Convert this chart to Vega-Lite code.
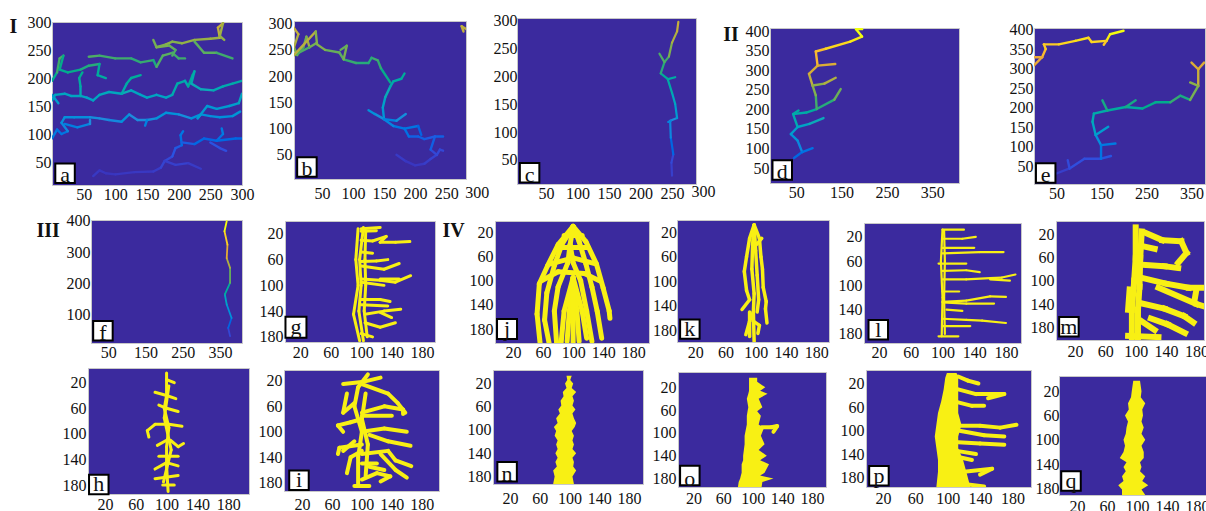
{"padding":0,"background":"white",
"config":{"view":{"stroke":null},"concat":{"spacing":0},"axis":{"grid":false,"ticks":false,"domain":false,"labelFont":"Liberation Serif","labelFontSize":16,"labelColor":"#111","labelOverlap":false,"labelFlush":false,"labelAngle":0}},
"datasets":{
"a":[{"b":1,"x":65,"y":25},{"b":1,"x":75,"y":35},{"b":1,"x":85,"y":30},{"b":1,"x":100,"y":28},{"b":1,"x":130,"y":32},{"b":1,"x":160,"y":33},{"b":1,"x":172,"y":40},{"b":1,"x":178,"y":52},{"b":1,"x":190,"y":60},{"b":1,"x":195,"y":75},{"b":1,"x":205,"y":80},{"b":1,"x":203,"y":98},{"b":1,"x":207,"y":105},
{"b":2,"x":178,"y":52},{"b":2,"x":195,"y":45},{"b":2,"x":215,"y":48},{"b":2,"x":235,"y":38},
{"b":3,"x":205,"y":85},{"b":3,"x":225,"y":82},{"b":3,"x":240,"y":92},{"b":3,"x":260,"y":88},{"b":3,"x":270,"y":100},{"b":3,"x":268,"y":110},
{"b":4,"x":260,"y":88},{"b":4,"x":290,"y":92},{"b":4,"x":300,"y":92},{"b":5,"x":250,"y":85},{"b":5,"x":265,"y":75},{"b":5,"x":275,"y":70},
{"b":6,"x":0,"y":92},{"b":6,"x":8,"y":108},{"b":6,"x":15,"y":100},{"b":6,"x":25,"y":105},{"b":6,"x":15,"y":120},{"b":6,"x":20,"y":130},{"b":6,"x":35,"y":130},{"b":6,"x":60,"y":130},{"b":6,"x":75,"y":128},{"b":6,"x":90,"y":125},{"b":6,"x":110,"y":122},{"b":6,"x":122,"y":135},{"b":6,"x":135,"y":125},{"b":6,"x":150,"y":125},{"b":6,"x":165,"y":128},{"b":6,"x":180,"y":138},{"b":6,"x":200,"y":135},{"b":6,"x":220,"y":128},{"b":6,"x":235,"y":135},{"b":6,"x":250,"y":132},{"b":6,"x":265,"y":130},{"b":6,"x":285,"y":132},{"b":6,"x":297,"y":140},
{"b":7,"x":20,"y":118},{"b":7,"x":40,"y":112},{"b":7,"x":60,"y":118},{"b":7,"x":60,"y":125},{"b":8,"x":150,"y":125},{"b":8,"x":147,"y":115},
{"b":9,"x":235,"y":135},{"b":9,"x":230,"y":128},{"b":9,"x":245,"y":150},{"b":9,"x":260,"y":145},{"b":9,"x":280,"y":150},{"b":9,"x":295,"y":155},{"b":9,"x":300,"y":172},
{"b":10,"x":0,"y":160},{"b":10,"x":5,"y":170},{"b":10,"x":20,"y":172},{"b":10,"x":30,"y":168},{"b":10,"x":45,"y":168},{"b":10,"x":55,"y":165},{"b":10,"x":65,"y":160},{"b":10,"x":75,"y":170},{"b":10,"x":90,"y":175},{"b":10,"x":110,"y":172},{"b":10,"x":125,"y":178},{"b":10,"x":140,"y":170},{"b":10,"x":150,"y":165},{"b":10,"x":165,"y":170},{"b":10,"x":180,"y":165},{"b":10,"x":190,"y":170},{"b":10,"x":198,"y":190},{"b":10,"x":210,"y":195},{"b":10,"x":215,"y":185},{"b":10,"x":222,"y":205},{"b":10,"x":225,"y":212},{"b":10,"x":220,"y":190},{"b":10,"x":235,"y":180},{"b":10,"x":255,"y":178},{"b":10,"x":270,"y":185},{"b":10,"x":285,"y":190},{"b":10,"x":300,"y":195},
{"b":11,"x":0,"y":170},{"b":11,"x":10,"y":155},{"b":12,"x":45,"y":168},{"b":12,"x":45,"y":185},{"b":12,"x":43,"y":200},{"b":12,"x":48,"y":210},{"b":13,"x":110,"y":172},{"b":13,"x":118,"y":190},{"b":13,"x":125,"y":200},{"b":13,"x":140,"y":205},
{"b":14,"x":0,"y":195},{"b":14,"x":8,"y":210},{"b":14,"x":12,"y":235},{"b":14,"x":18,"y":240},{"b":14,"x":12,"y":215},{"b":14,"x":25,"y":210},{"b":14,"x":45,"y":215},{"b":14,"x":58,"y":222},{"b":14,"x":75,"y":225},{"b":14,"x":72,"y":205},{"b":14,"x":85,"y":200},
{"b":15,"x":58,"y":238},{"b":15,"x":75,"y":240},{"b":15,"x":100,"y":235},{"b":15,"x":125,"y":235},{"b":15,"x":140,"y":228},{"b":15,"x":160,"y":232},{"b":15,"x":165,"y":220},{"b":15,"x":175,"y":240},{"b":15,"x":190,"y":245},{"b":15,"x":200,"y":235},{"b":15,"x":210,"y":235},
{"b":16,"x":160,"y":268},{"b":16,"x":165,"y":255},{"b":16,"x":180,"y":260},{"b":16,"x":190,"y":265},{"b":16,"x":205,"y":262},{"b":16,"x":225,"y":268},{"b":16,"x":250,"y":270},{"b":16,"x":265,"y":272},{"b":16,"x":262,"y":290},{"b":16,"x":270,"y":298},{"b":16,"x":265,"y":275},{"b":16,"x":272,"y":268},
{"b":17,"x":165,"y":255},{"b":17,"x":185,"y":258},{"b":17,"x":195,"y":250},{"b":17,"x":190,"y":240},{"b":18,"x":225,"y":265},{"b":18,"x":240,"y":245},{"b":18,"x":260,"y":245},{"b":18,"x":285,"y":235}],
"b":[{"b":1,"x":170,"y":50},{"b":1,"x":185,"y":38},{"b":1,"x":200,"y":30},{"b":1,"x":215,"y":33},{"b":1,"x":225,"y":42},{"b":1,"x":235,"y":50},{"b":1,"x":240,"y":60},{"b":1,"x":245,"y":58},
{"b":2,"x":235,"y":50},{"b":2,"x":225,"y":60},{"b":2,"x":232,"y":85},{"b":2,"x":245,"y":85},{"b":3,"x":232,"y":85},{"b":3,"x":215,"y":80},{"b":3,"x":205,"y":85},{"b":3,"x":190,"y":85},{"b":3,"x":183,"y":100},{"b":3,"x":165,"y":105},{"b":3,"x":150,"y":118},{"b":3,"x":135,"y":128},{"b":3,"x":125,"y":135},
{"b":4,"x":150,"y":118},{"b":4,"x":148,"y":140},{"b":4,"x":152,"y":160},{"b":4,"x":160,"y":180},{"b":4,"x":165,"y":190},{"b":4,"x":178,"y":195},{"b":4,"x":183,"y":205},
{"b":5,"x":160,"y":188},{"b":5,"x":145,"y":215},{"b":5,"x":140,"y":230},{"b":5,"x":130,"y":235},{"b":5,"x":125,"y":225},{"b":5,"x":105,"y":225},{"b":5,"x":85,"y":232},{"b":5,"x":78,"y":245},{"b":5,"x":55,"y":250},{"b":5,"x":40,"y":262},{"b":5,"x":30,"y":255},{"b":5,"x":25,"y":275},{"b":5,"x":20,"y":255},{"b":5,"x":10,"y":240},{"b":5,"x":5,"y":255},{"b":5,"x":12,"y":280},{"b":5,"x":3,"y":295},
{"b":6,"x":85,"y":232},{"b":6,"x":90,"y":258},{"b":6,"x":80,"y":250},{"b":7,"x":278,"y":285},{"b":7,"x":275,"y":295},{"b":7,"x":282,"y":290},{"b":8,"x":150,"y":118},{"b":8,"x":170,"y":115},{"b":8,"x":185,"y":128},{"b":9,"x":183,"y":100},{"b":9,"x":205,"y":105},{"b":9,"x":210,"y":88},{"b":10,"x":30,"y":255},{"b":10,"x":5,"y":240},{"b":10,"x":40,"y":285},{"b":10,"x":42,"y":262}],
"c":[{"b":1,"x":250,"y":22},{"b":1,"x":249,"y":45},{"b":1,"x":252,"y":60},{"b":1,"x":248,"y":90},{"b":1,"x":247,"y":120},{"b":1,"x":258,"y":125},{"b":1,"x":255,"y":150},{"b":1,"x":250,"y":170},{"b":1,"x":243,"y":195},{"b":1,"x":232,"y":205},{"b":1,"x":238,"y":225},{"b":1,"x":245,"y":235},{"b":1,"x":250,"y":260},{"b":1,"x":258,"y":280},{"b":1,"x":260,"y":297},{"b":2,"x":238,"y":225},{"b":2,"x":230,"y":240},{"b":3,"x":245,"y":195},{"b":3,"x":255,"y":198},{"b":4,"x":248,"y":120},{"b":4,"x":244,"y":118}],
"d":[{"b":1,"x":45,"y":76},{"b":1,"x":63,"y":91},{"b":1,"x":53,"y":120},{"b":1,"x":38,"y":137},{"b":1,"x":53,"y":155},{"b":1,"x":43,"y":188},{"b":1,"x":55,"y":197},{"b":2,"x":63,"y":91},{"b":2,"x":86,"y":101},{"b":3,"x":53,"y":155},{"b":3,"x":79,"y":163},{"b":3,"x":110,"y":178},
{"b":4,"x":43,"y":188},{"b":4,"x":72,"y":192},{"b":4,"x":95,"y":201},{"b":4,"x":134,"y":225},{"b":4,"x":148,"y":252},{"b":5,"x":95,"y":201},{"b":5,"x":93,"y":236},{"b":5,"x":86,"y":261},{"b":5,"x":78,"y":291},{"b":5,"x":97,"y":312},{"b":5,"x":93,"y":348},{"b":5,"x":115,"y":355},{"b":5,"x":169,"y":373},{"b":5,"x":195,"y":386},{"b":5,"x":182,"y":405},{"b":5,"x":195,"y":405},
{"b":6,"x":86,"y":261},{"b":6,"x":112,"y":266},{"b":6,"x":137,"y":281},{"b":7,"x":97,"y":312},{"b":7,"x":136,"y":316}],
"e":[{"b":1,"x":50,"y":31},{"b":1,"x":79,"y":44},{"b":1,"x":112,"y":69},{"b":1,"x":149,"y":69},{"b":1,"x":171,"y":76},{"b":2,"x":149,"y":69},{"b":2,"x":149,"y":104},{"b":2,"x":137,"y":130},{"b":2,"x":130,"y":164},{"b":2,"x":133,"y":185},{"b":2,"x":163,"y":193},{"b":2,"x":204,"y":202},{"b":2,"x":241,"y":198},{"b":2,"x":270,"y":214},{"b":2,"x":303,"y":214},{"b":2,"x":325,"y":231},{"b":2,"x":347,"y":220},{"b":2,"x":365,"y":256},{"b":2,"x":365,"y":299},{"b":2,"x":350,"y":316},
{"b":3,"x":149,"y":104},{"b":3,"x":181,"y":108},{"b":4,"x":137,"y":130},{"b":4,"x":165,"y":151},{"b":5,"x":163,"y":193},{"b":5,"x":152,"y":219},{"b":6,"x":204,"y":202},{"b":6,"x":226,"y":219},{"b":7,"x":365,"y":256},{"b":7,"x":347,"y":265},{"b":8,"x":365,"y":299},{"b":8,"x":378,"y":316},{"b":9,"x":79,"y":44},{"b":9,"x":75,"y":65},
{"b":10,"x":0,"y":309},{"b":10,"x":18,"y":330},{"b":10,"x":26,"y":351},{"b":10,"x":22,"y":363},{"b":10,"x":55,"y":363},{"b":10,"x":92,"y":372},{"b":10,"x":121,"y":380},{"b":10,"x":128,"y":369},{"b":10,"x":161,"y":372},{"b":10,"x":169,"y":389},{"b":10,"x":199,"y":398},{"b":11,"x":0,"y":330},{"b":11,"x":18,"y":330},{"b":12,"x":161,"y":372},{"b":12,"x":155,"y":362}],
"f":[{"b":1,"x":377,"y":32},{"b":1,"x":372,"y":58},{"b":1,"x":381,"y":90},{"b":1,"x":368,"y":133},{"b":1,"x":363,"y":165},{"b":1,"x":377,"y":202},{"b":1,"x":377,"y":250},{"b":1,"x":368,"y":281},{"b":1,"x":370,"y":324},{"b":1,"x":362,"y":367},{"b":1,"x":368,"y":399}],
"g":[{"b":1,"x":103,"y":10},{"b":1,"x":98,"y":60},{"b":1,"x":100,"y":100},{"b":1,"x":97,"y":140},{"b":1,"x":103,"y":186},{"b":2,"x":96,"y":12},{"b":2,"x":93,"y":60},{"b":2,"x":96,"y":100},{"b":2,"x":90,"y":145},{"b":2,"x":98,"y":186},{"b":3,"x":106,"y":15},{"b":3,"x":105,"y":60},{"b":3,"x":106,"y":100},{"b":3,"x":104,"y":140},{"b":3,"x":108,"y":180},
{"b":4,"x":100,"y":12},{"b":4,"x":125,"y":10},{"b":5,"x":100,"y":16},{"b":5,"x":120,"y":15},{"b":6,"x":100,"y":30},{"b":6,"x":115,"y":31},{"b":6,"x":133,"y":24},{"b":6,"x":125,"y":33},{"b":6,"x":145,"y":33},{"b":6,"x":164,"y":32},{"b":7,"x":100,"y":48},{"b":7,"x":115,"y":50},{"b":8,"x":100,"y":63},{"b":8,"x":120,"y":62},{"b":8,"x":135,"y":60},{"b":9,"x":100,"y":70},{"b":9,"x":130,"y":75},{"b":9,"x":150,"y":66},
{"b":10,"x":100,"y":90},{"b":10,"x":125,"y":92},{"b":10,"x":145,"y":95},{"b":10,"x":165,"y":85},{"b":11,"x":125,"y":90},{"b":11,"x":150,"y":90},{"b":12,"x":100,"y":95},{"b":12,"x":130,"y":100},{"b":13,"x":100,"y":122},{"b":13,"x":125,"y":122},{"b":13,"x":138,"y":125},{"b":14,"x":100,"y":130},{"b":14,"x":135,"y":132},{"b":15,"x":105,"y":145},{"b":15,"x":130,"y":140},{"b":15,"x":152,"y":137},{"b":16,"x":125,"y":142},{"b":16,"x":140,"y":150},{"b":17,"x":105,"y":158},{"b":17,"x":125,"y":165},{"b":17,"x":145,"y":158},{"b":18,"x":100,"y":175},{"b":18,"x":115,"y":180}],
"h":[{"b":1,"x":100,"y":5},{"b":1,"x":100,"y":40},{"b":1,"x":97,"y":60},{"b":1,"x":103,"y":90},{"b":1,"x":100,"y":120},{"b":1,"x":100,"y":150},{"b":1,"x":102,"y":190},{"b":2,"x":100,"y":15},{"b":2,"x":110,"y":20},{"b":3,"x":85,"y":35},{"b":3,"x":100,"y":40},{"b":3,"x":112,"y":45},{"b":4,"x":90,"y":55},{"b":4,"x":100,"y":60},{"b":4,"x":115,"y":65},{"b":5,"x":103,"y":85},{"b":5,"x":85,"y":85},{"b":5,"x":75,"y":95},{"b":5,"x":77,"y":105},{"b":6,"x":103,"y":85},{"b":6,"x":120,"y":88},{"b":7,"x":100,"y":110},{"b":7,"x":88,"y":118},{"b":8,"x":105,"y":110},{"b":8,"x":115,"y":120},{"b":8,"x":122,"y":115},{"b":9,"x":90,"y":135},{"b":9,"x":115,"y":135},{"b":10,"x":85,"y":155},{"b":10,"x":100,"y":145},{"b":10,"x":115,"y":150},{"b":11,"x":85,"y":170},{"b":11,"x":115,"y":165},{"b":12,"x":95,"y":180},{"b":12,"x":110,"y":180},{"b":13,"x":103,"y":25},{"b":13,"x":97,"y":75},{"b":13,"x":106,"y":125},{"b":13,"x":96,"y":175}],
"i":[{"b":1,"x":108,"y":10},{"b":1,"x":95,"y":30},{"b":1,"x":90,"y":60},{"b":1,"x":100,"y":100},{"b":1,"x":95,"y":140},{"b":1,"x":95,"y":185},{"b":2,"x":75,"y":25},{"b":2,"x":100,"y":22},{"b":2,"x":125,"y":15},{"b":3,"x":100,"y":25},{"b":3,"x":135,"y":40},{"b":3,"x":148,"y":55},{"b":3,"x":158,"y":70},{"b":4,"x":80,"y":40},{"b":4,"x":75,"y":70},{"b":4,"x":90,"y":55},{"b":5,"x":100,"y":70},{"b":5,"x":130,"y":60},{"b":5,"x":155,"y":65},{"b":5,"x":155,"y":72},{"b":6,"x":100,"y":75},{"b":6,"x":140,"y":75},{"b":7,"x":100,"y":80},{"b":7,"x":85,"y":85},{"b":7,"x":68,"y":90},{"b":7,"x":75,"y":100},{"b":8,"x":100,"y":100},{"b":8,"x":130,"y":95},{"b":8,"x":160,"y":100},{"b":9,"x":110,"y":105},{"b":9,"x":135,"y":115},{"b":9,"x":165,"y":122},{"b":10,"x":100,"y":120},{"b":10,"x":70,"y":125},{"b":10,"x":68,"y":135},{"b":11,"x":90,"y":115},{"b":11,"x":75,"y":130},{"b":12,"x":100,"y":135},{"b":12,"x":135,"y":130},{"b":12,"x":145,"y":145},{"b":12,"x":166,"y":154},{"b":13,"x":125,"y":135},{"b":13,"x":145,"y":160},{"b":13,"x":160,"y":172},{"b":14,"x":100,"y":130},{"b":14,"x":85,"y":140},{"b":14,"x":80,"y":165},{"b":15,"x":100,"y":175},{"b":15,"x":120,"y":165},{"b":15,"x":138,"y":170},{"b":15,"x":125,"y":178},{"b":16,"x":90,"y":185},{"b":16,"x":110,"y":185},{"b":17,"x":110,"y":155},{"b":17,"x":130,"y":160},{"b":18,"x":100,"y":150},{"b":18,"x":120,"y":150},{"b":19,"x":105,"y":40},{"b":19,"x":100,"y":80},{"b":19,"x":108,"y":120},{"b":19,"x":105,"y":170}],
"j":[{"b":1,"x":100,"y":10},{"b":1,"x":80,"y":40},{"b":1,"x":66,"y":75},{"b":1,"x":55,"y":105},{"b":1,"x":52,"y":155},{"b":1,"x":56,"y":203},{"b":2,"x":100,"y":10},{"b":2,"x":85,"y":40},{"b":2,"x":75,"y":75},{"b":2,"x":65,"y":120},{"b":2,"x":62,"y":165},{"b":2,"x":68,"y":203},{"b":3,"x":100,"y":10},{"b":3,"x":117,"y":35},{"b":3,"x":131,"y":72},{"b":3,"x":140,"y":112},{"b":3,"x":148,"y":150},{"b":3,"x":149,"y":162},{"b":4,"x":100,"y":10},{"b":4,"x":108,"y":35},{"b":4,"x":117,"y":72},{"b":4,"x":125,"y":110},{"b":4,"x":132,"y":150},{"b":4,"x":138,"y":195},{"b":5,"x":100,"y":10},{"b":5,"x":96,"y":40},{"b":5,"x":93,"y":70},{"b":5,"x":80,"y":110},{"b":5,"x":75,"y":150},{"b":5,"x":78,"y":203},{"b":6,"x":96,"y":40},{"b":6,"x":100,"y":70},{"b":6,"x":110,"y":100},{"b":6,"x":118,"y":150},{"b":6,"x":125,"y":200},{"b":7,"x":100,"y":95},{"b":7,"x":95,"y":150},{"b":7,"x":92,"y":200},{"b":8,"x":100,"y":95},{"b":8,"x":105,"y":150},{"b":8,"x":108,"y":200},{"b":9,"x":100,"y":95},{"b":9,"x":88,"y":150},{"b":9,"x":84,"y":203},{"b":10,"x":100,"y":95},{"b":10,"x":112,"y":150},{"b":10,"x":118,"y":195},{"b":11,"x":100,"y":95},{"b":11,"x":100,"y":203},{"b":12,"x":88,"y":25},{"b":12,"x":112,"y":25},{"b":13,"x":82,"y":45},{"b":13,"x":120,"y":45},{"b":14,"x":70,"y":72},{"b":14,"x":100,"y":62},{"b":14,"x":130,"y":72},{"b":15,"x":58,"y":100},{"b":15,"x":80,"y":85},{"b":15,"x":115,"y":88},{"b":15,"x":135,"y":100}],
"k":[{"b":1,"x":98,"y":8},{"b":1,"x":92,"y":30},{"b":1,"x":88,"y":60},{"b":1,"x":85,"y":84},{"b":1,"x":88,"y":115},{"b":1,"x":92,"y":130},{"b":1,"x":82,"y":146},{"b":2,"x":98,"y":8},{"b":2,"x":96,"y":40},{"b":2,"x":95,"y":80},{"b":2,"x":98,"y":120},{"b":2,"x":97,"y":150},{"b":2,"x":92,"y":165},{"b":2,"x":87,"y":187},{"b":3,"x":98,"y":8},{"b":3,"x":105,"y":30},{"b":3,"x":107,"y":60},{"b":3,"x":109,"y":80},{"b":3,"x":110,"y":110},{"b":3,"x":114,"y":133},{"b":3,"x":113,"y":145},{"b":3,"x":115,"y":168},{"b":4,"x":98,"y":8},{"b":4,"x":100,"y":50},{"b":4,"x":102,"y":90},{"b":4,"x":104,"y":130},{"b":4,"x":102,"y":150},{"b":5,"x":97,"y":150},{"b":5,"x":98,"y":198},{"b":6,"x":97,"y":165},{"b":6,"x":105,"y":172},{"b":6,"x":103,"y":185},{"b":7,"x":108,"y":30},{"b":7,"x":101,"y":40},{"b":8,"x":92,"y":150},{"b":8,"x":92,"y":190}],
"l":[{"b":1,"x":100,"y":8},{"b":1,"x":98,"y":60},{"b":1,"x":100,"y":120},{"b":1,"x":99,"y":184},{"b":2,"x":102,"y":10},{"b":2,"x":103,"y":60},{"b":2,"x":102,"y":120},{"b":2,"x":103,"y":180},{"b":3,"x":100,"y":8},{"b":3,"x":127,"y":8},{"b":4,"x":100,"y":23},{"b":4,"x":125,"y":23},{"b":4,"x":142,"y":20},{"b":5,"x":100,"y":38},{"b":5,"x":140,"y":38},{"b":6,"x":100,"y":47},{"b":6,"x":147,"y":45},{"b":6,"x":177,"y":45},{"b":7,"x":95,"y":64},{"b":7,"x":130,"y":64},{"b":8,"x":100,"y":76},{"b":8,"x":130,"y":75},{"b":8,"x":147,"y":78},{"b":9,"x":100,"y":90},{"b":9,"x":130,"y":90},{"b":9,"x":160,"y":88},{"b":9,"x":175,"y":87},{"b":9,"x":192,"y":82},{"b":10,"x":160,"y":90},{"b":10,"x":185,"y":92},{"b":11,"x":100,"y":110},{"b":11,"x":121,"y":110},{"b":12,"x":100,"y":127},{"b":12,"x":130,"y":125},{"b":12,"x":160,"y":118},{"b":12,"x":180,"y":119},{"b":13,"x":100,"y":128},{"b":13,"x":130,"y":130},{"b":13,"x":165,"y":130},{"b":14,"x":105,"y":140},{"b":14,"x":125,"y":142},{"b":15,"x":100,"y":155},{"b":15,"x":130,"y":157},{"b":15,"x":150,"y":158},{"b":15,"x":180,"y":162},{"b":16,"x":100,"y":167},{"b":16,"x":135,"y":167},{"b":17,"x":95,"y":184},{"b":17,"x":120,"y":184}],
"m":[{"b":1,"x":100,"y":8},{"b":1,"x":100,"y":60},{"b":1,"x":98,"y":100},{"b":1,"x":95,"y":150},{"b":1,"x":95,"y":198},{"b":2,"x":108,"y":15},{"b":2,"x":106,"y":60},{"b":2,"x":105,"y":110},{"b":2,"x":103,"y":150},{"b":2,"x":103,"y":198},{"b":3,"x":92,"y":115},{"b":3,"x":90,"y":150},{"b":4,"x":114,"y":18},{"b":4,"x":135,"y":30},{"b":4,"x":160,"y":32},{"b":4,"x":167,"y":52},{"b":4,"x":156,"y":69},{"b":5,"x":103,"y":72},{"b":5,"x":138,"y":75},{"b":5,"x":156,"y":78},{"b":6,"x":108,"y":95},{"b":6,"x":140,"y":105},{"b":6,"x":170,"y":112},{"b":6,"x":190,"y":112},{"b":7,"x":130,"y":112},{"b":7,"x":180,"y":140},{"b":7,"x":192,"y":145},{"b":8,"x":108,"y":139},{"b":8,"x":138,"y":148},{"b":8,"x":164,"y":161},{"b":8,"x":176,"y":172},{"b":9,"x":120,"y":165},{"b":9,"x":142,"y":175},{"b":9,"x":165,"y":190},{"b":10,"x":90,"y":195},{"b":10,"x":130,"y":197},{"b":11,"x":108,"y":40},{"b":11,"x":125,"y":45},{"b":12,"x":108,"y":170},{"b":12,"x":125,"y":185},{"b":13,"x":180,"y":115},{"b":13,"x":178,"y":130}],
"nA":[{"y":7,"x":96,"x2":103},{"y":14,"x":97,"x2":101},{"y":20,"x":94,"x2":105},{"y":28,"x":96,"x2":103},{"y":35,"x":91,"x2":109},{"y":42,"x":92,"x2":104},{"y":50,"x":88,"x2":106},{"y":58,"x":89,"x2":104},{"y":65,"x":85,"x2":108},{"y":72,"x":87,"x2":104},{"y":80,"x":82,"x2":106},{"y":88,"x":84,"x2":109},{"y":95,"x":79,"x2":107},{"y":102,"x":82,"x2":103},{"y":110,"x":80,"x2":106},{"y":118,"x":84,"x2":104},{"y":125,"x":82,"x2":106},{"y":133,"x":84,"x2":104},{"y":140,"x":81,"x2":109},{"y":148,"x":84,"x2":104},{"y":155,"x":81,"x2":106},{"y":163,"x":83,"x2":105},{"y":170,"x":78,"x2":109},{"y":180,"x":80,"x2":104},{"y":193,"x":78,"x2":106}],
"oA":[{"y":3,"x":95,"x2":106},{"y":10,"x":95,"x2":106},{"y":20,"x":95,"x2":117},{"y":26,"x":95,"x2":110},{"y":31,"x":94,"x2":120},{"y":40,"x":92,"x2":108},{"y":55,"x":94,"x2":113},{"y":62,"x":93,"x2":106},{"y":70,"x":92,"x2":111},{"y":85,"x":92,"x2":108},{"y":92,"x":91,"x2":115},{"y":105,"x":89,"x2":111},{"y":120,"x":89,"x2":116},{"y":130,"x":88,"x2":108},{"y":140,"x":87,"x2":119},{"y":148,"x":87,"x2":110},{"y":155,"x":85,"x2":122},{"y":170,"x":85,"x2":116},{"y":175,"x":84,"x2":110},{"y":180,"x":83,"x2":128},{"y":186,"x":81,"x2":113},{"y":195,"x":80,"x2":112}],
"oB":[{"b":1,"x":112,"y":90},{"b":1,"x":125,"y":90},{"b":1,"x":133,"y":88},{"b":1,"x":128,"y":98}],
"pA":[{"y":2,"x":99,"x2":111},{"y":10,"x":97,"x2":113},{"y":30,"x":95,"x2":113},{"y":50,"x":92,"x2":113},{"y":70,"x":88,"x2":113},{"y":90,"x":86,"x2":117},{"y":110,"x":84,"x2":113},{"y":130,"x":86,"x2":113},{"y":150,"x":88,"x2":119},{"y":170,"x":88,"x2":123},{"y":196,"x":86,"x2":128}],
"pB":[{"b":1,"x":113,"y":8},{"b":1,"x":125,"y":15},{"b":1,"x":138,"y":20},{"b":2,"x":113,"y":30},{"b":2,"x":135,"y":38},{"b":2,"x":170,"y":38},{"b":2,"x":150,"y":45},{"b":3,"x":113,"y":52},{"b":3,"x":130,"y":58},{"b":3,"x":145,"y":58},{"b":4,"x":113,"y":92},{"b":4,"x":140,"y":92},{"b":4,"x":165,"y":95},{"b":4,"x":185,"y":90},{"b":5,"x":113,"y":100},{"b":5,"x":145,"y":108},{"b":5,"x":170,"y":110},{"b":6,"x":113,"y":120},{"b":6,"x":140,"y":122},{"b":6,"x":170,"y":124},{"b":7,"x":113,"y":135},{"b":7,"x":135,"y":140},{"b":8,"x":113,"y":145},{"b":8,"x":130,"y":150},{"b":9,"x":120,"y":170},{"b":9,"x":155,"y":165},{"b":9,"x":140,"y":175},{"b":10,"x":115,"y":190},{"b":10,"x":145,"y":195}],
"qA":[{"y":3,"x":95,"x2":104},{"y":20,"x":93,"x2":106},{"y":30,"x":92,"x2":105},{"y":40,"x":88,"x2":111},{"y":50,"x":89,"x2":107},{"y":60,"x":84,"x2":108},{"y":70,"x":88,"x2":106},{"y":80,"x":86,"x2":109},{"y":90,"x":85,"x2":106},{"y":100,"x":82,"x2":111},{"y":110,"x":84,"x2":106},{"y":120,"x":82,"x2":109},{"y":130,"x":77,"x2":109},{"y":137,"x":86,"x2":104},{"y":145,"x":82,"x2":106},{"y":152,"x":85,"x2":104},{"y":160,"x":80,"x2":111},{"y":168,"x":82,"x2":107},{"y":175,"x":75,"x2":115},{"y":182,"x":80,"x2":106},{"y":191,"x":80,"x2":111}]
},
"vconcat":[
{"hconcat":[
{"width":7,"height":1,"data":{"values":[{}]},"mark":{"type":"rule","opacity":0},"encoding":{}},
{"vconcat":[{"width":1,"height":12,"data":{"values":[{}]},"mark":{"type":"rule","opacity":0},"encoding":{}},
{"width":190,"height":163,"view":{"fill":"#3b2a9e","stroke":"#c8c8c8"},"data":{"name":"a"},"encoding":{"x":{"field":"x","type":"quantitative","title":null,"scale":{"domain":[0,300],"nice":false,"zero":false},"axis":{"values":[50,100,150,200,250,300],"labelPadding":1.5}},"y":{"field":"y","type":"quantitative","title":null,"scale":{"domain":[9,300],"nice":false,"zero":false},"axis":{"values":[50,100,150,200,250,300],"labelPadding":1}}},
"layer":[{"transform":[{"window":[{"op":"lag","field":"x","as":"x0"},{"op":"lag","field":"y","as":"y0"}],"groupby":["b"]},{"filter":"datum.x0!=null"}],"mark":{"type":"rule","strokeWidth":2.4,"strokeCap":"round","clip":true},"encoding":{"x2":{"field":"x0"},"y2":{"field":"y0"},"color":{"field":"y","type":"quantitative","legend":null,"scale":{"domain":[20,70,110,145,175,205,240,295],"range":["#3a30b8","#2f50e0","#1f8cdc","#10aab8","#35aa70","#b8b040","#f4a838","#f8f010"]}}}},
{"data":{"values":[{"x":20.6,"y":30,"t":"a"}]},"layer":[{"mark":{"type":"point","shape":"square","size":380,"filled":true,"fill":"white","stroke":"black","strokeWidth":2,"opacity":1}},{"mark":{"type":"text","font":"Liberation Serif","fontSize":22,"color":"#111","dy":2},"encoding":{"text":{"field":"t"}}}]},
{"data":{"values":[{"x":-61,"y":291,"t":"I"}]},"mark":{"type":"text","font":"Liberation Serif","fontSize":20,"fontWeight":"bold","color":"#111"},"encoding":{"text":{"field":"t"}}}]}]},
{"width":11,"height":1,"data":{"values":[{}]},"mark":{"type":"rule","opacity":0},"encoding":{}},
{"vconcat":[{"width":1,"height":14,"data":{"values":[{}]},"mark":{"type":"rule","opacity":0},"encoding":{}},
{"width":172,"height":158,"view":{"fill":"#3b2a9e","stroke":"#c8c8c8"},"data":{"name":"b"},"encoding":{"x":{"field":"x","type":"quantitative","title":null,"scale":{"domain":[5,282],"nice":false,"zero":false},"axis":{"values":[50,100,150,200,250],"labelPadding":6.5}},"y":{"field":"y","type":"quantitative","title":null,"scale":{"domain":[4,305],"nice":false,"zero":false},"axis":{"values":[50,100,150,200,250,300],"labelPadding":2}}},
"layer":[{"transform":[{"window":[{"op":"lag","field":"x","as":"x0"},{"op":"lag","field":"y","as":"y0"}],"groupby":["b"]},{"filter":"datum.x0!=null"}],"mark":{"type":"rule","strokeWidth":2.4,"strokeCap":"round","clip":true},"encoding":{"x2":{"field":"x0"},"y2":{"field":"y0"},"color":{"field":"y","type":"quantitative","legend":null,"scale":{"domain":[20,70,110,145,175,205,240,295],"range":["#3a30b8","#2f50e0","#1f8cdc","#10aab8","#35aa70","#b8b040","#f4a838","#f8f010"]}}}},
{"data":{"values":[{"x":25.8,"y":27,"t":"b"}]},"layer":[{"mark":{"type":"point","shape":"square","size":380,"filled":true,"fill":"white","stroke":"black","strokeWidth":2,"opacity":1}},{"mark":{"type":"text","font":"Liberation Serif","fontSize":22,"color":"#111","dy":2},"encoding":{"text":{"field":"t"}}}]},
{"data":{"values":[{"x":300,"y":-22.5,"t":"300"}]},"mark":{"type":"text","font":"Liberation Serif","fontSize":16,"color":"#111"},"encoding":{"text":{"field":"t"}}}]}]},
{"width":0.5,"height":1,"data":{"values":[{}]},"mark":{"type":"rule","opacity":0},"encoding":{}},
{"vconcat":[{"width":1,"height":10,"data":{"values":[{}]},"mark":{"type":"rule","opacity":0},"encoding":{}},
{"width":179,"height":166,"view":{"fill":"#3b2a9e","stroke":"#c8c8c8"},"data":{"name":"c"},"encoding":{"x":{"field":"x","type":"quantitative","title":null,"scale":{"domain":[4,288],"nice":false,"zero":false},"axis":{"values":[50,100,150,200,250],"labelPadding":1}},"y":{"field":"y","type":"quantitative","title":null,"scale":{"domain":[7,304],"nice":false,"zero":false},"axis":{"values":[50,100,150,200,250,300],"labelPadding":0}}},
"layer":[{"transform":[{"window":[{"op":"lag","field":"x","as":"x0"},{"op":"lag","field":"y","as":"y0"}],"groupby":["b"]},{"filter":"datum.x0!=null"}],"mark":{"type":"rule","strokeWidth":2.2,"strokeCap":"round","clip":true},"encoding":{"x2":{"field":"x0"},"y2":{"field":"y0"},"color":{"field":"y","type":"quantitative","legend":null,"scale":{"domain":[20,70,110,145,175,205,240,295],"range":["#3a30b8","#2f50e0","#1f8cdc","#10aab8","#35aa70","#b8b040","#f4a838","#f8f010"]}}}},
{"data":{"values":[{"x":24,"y":27,"t":"c"}]},"layer":[{"mark":{"type":"point","shape":"square","size":380,"filled":true,"fill":"white","stroke":"black","strokeWidth":2,"opacity":1}},{"mark":{"type":"text","font":"Liberation Serif","fontSize":22,"color":"#111","dy":2},"encoding":{"text":{"field":"t"}}}]},
{"data":{"values":[{"x":300,"y":-7,"t":"300"}]},"mark":{"type":"text","font":"Liberation Serif","fontSize":16,"color":"#111"},"encoding":{"text":{"field":"t"}}}]}]},
{"width":3.5,"height":1,"data":{"values":[{}]},"mark":{"type":"rule","opacity":0},"encoding":{}},
{"vconcat":[{"width":1,"height":21,"data":{"values":[{}]},"mark":{"type":"rule","opacity":0},"encoding":{}},
{"width":189,"height":155,"view":{"fill":"#3b2a9e","stroke":"#c8c8c8"},"data":{"name":"d"},"encoding":{"x":{"field":"x","type":"quantitative","title":null,"scale":{"domain":[-8,409],"nice":false,"zero":false},"axis":{"values":[50,150,250,350],"labelPadding":1.5}},"y":{"field":"y","type":"quantitative","title":null,"scale":{"domain":[12,408],"nice":false,"zero":false},"axis":{"values":[50,100,150,200,250,300,350,400],"labelPadding":1}}},
"layer":[{"transform":[{"window":[{"op":"lag","field":"x","as":"x0"},{"op":"lag","field":"y","as":"y0"}],"groupby":["b"]},{"filter":"datum.x0!=null"}],"mark":{"type":"rule","strokeWidth":2.4,"strokeCap":"round","clip":true},"encoding":{"x2":{"field":"x0"},"y2":{"field":"y0"},"color":{"field":"y","type":"quantitative","legend":null,"scale":{"domain":[25,90,150,200,250,290,340,390],"range":["#3a30b8","#2f50e0","#1f8cdc","#10aab8","#35aa70","#b8b040","#f4a838","#f8f010"]}}}},
{"data":{"values":[{"x":19,"y":45,"t":"d"}]},"layer":[{"mark":{"type":"point","shape":"square","size":380,"filled":true,"fill":"white","stroke":"black","strokeWidth":2,"opacity":1}},{"mark":{"type":"text","font":"Liberation Serif","fontSize":22,"color":"#111","dy":2},"encoding":{"text":{"field":"t"}}}]},
{"data":{"values":[{"x":-94,"y":390,"t":"II"}]},"mark":{"type":"text","font":"Liberation Serif","fontSize":20,"fontWeight":"bold","color":"#111"},"encoding":{"text":{"field":"t"}}}]}]},
{"width":47,"height":1,"data":{"values":[{}]},"mark":{"type":"rule","opacity":0},"encoding":{}},
{"vconcat":[{"width":1,"height":20,"data":{"values":[{}]},"mark":{"type":"rule","opacity":0},"encoding":{}},
{"width":171,"height":156,"view":{"fill":"#3b2a9e","stroke":"#c8c8c8"},"data":{"name":"e"},"encoding":{"x":{"field":"x","type":"quantitative","title":null,"scale":{"domain":[0,380],"nice":false,"zero":false},"axis":{"values":[50,150,250,350],"labelPadding":1}},"y":{"field":"y","type":"quantitative","title":null,"scale":{"domain":[4,405],"nice":false,"zero":false},"axis":{"values":[50,100,150,200,250,300,350,400],"labelPadding":1}}},
"layer":[{"transform":[{"window":[{"op":"lag","field":"x","as":"x0"},{"op":"lag","field":"y","as":"y0"}],"groupby":["b"]},{"filter":"datum.x0!=null"}],"mark":{"type":"rule","strokeWidth":2.4,"strokeCap":"round","clip":true},"encoding":{"x2":{"field":"x0"},"y2":{"field":"y0"},"color":{"field":"y","type":"quantitative","legend":null,"scale":{"domain":[25,90,150,200,250,290,340,390],"range":["#3a30b8","#2f50e0","#1f8cdc","#10aab8","#35aa70","#b8b040","#f4a838","#f8f010"]}}}},
{"data":{"values":[{"x":26,"y":32,"t":"e"}]},"layer":[{"mark":{"type":"point","shape":"square","size":380,"filled":true,"fill":"white","stroke":"black","strokeWidth":2,"opacity":1}},{"mark":{"type":"text","font":"Liberation Serif","fontSize":22,"color":"#111","dy":2},"encoding":{"text":{"field":"t"}}}]}]}]}
]},
{"hconcat":[
{"width":34,"height":1,"data":{"values":[{}]},"mark":{"type":"rule","opacity":0},"encoding":{}},
{"vconcat":[{"width":1,"height":8,"data":{"values":[{}]},"mark":{"type":"rule","opacity":0},"encoding":{}},
{"width":151,"height":123,"view":{"fill":"#3b2a9e","stroke":"#c8c8c8"},"data":{"name":"f"},"encoding":{"x":{"field":"x","type":"quantitative","title":null,"scale":{"domain":[4,409],"nice":false,"zero":false},"axis":{"values":[50,150,250,350],"labelPadding":1}},"y":{"field":"y","type":"quantitative","title":null,"scale":{"domain":[10,403],"nice":false,"zero":false},"axis":{"values":[100,200,300,400],"labelPadding":1}}},
"layer":[{"transform":[{"window":[{"op":"lag","field":"x","as":"x0"},{"op":"lag","field":"y","as":"y0"}],"groupby":["b"]},{"filter":"datum.x0!=null"}],"mark":{"type":"rule","strokeWidth":1.8,"strokeCap":"round","clip":true},"encoding":{"x2":{"field":"x0"},"y2":{"field":"y0"},"color":{"field":"y","type":"quantitative","legend":null,"scale":{"domain":[25,90,150,200,250,290,340,390],"range":["#3a30b8","#2f50e0","#1f8cdc","#10aab8","#35aa70","#b8b040","#f4a838","#f8f010"]}}}},
{"data":{"values":[{"x":36,"y":49,"t":"f"}]},"layer":[{"mark":{"type":"point","shape":"square","size":380,"filled":true,"fill":"white","stroke":"black","strokeWidth":2,"opacity":1}},{"mark":{"type":"text","font":"Liberation Serif","fontSize":22,"color":"#111","dy":2},"encoding":{"text":{"field":"t"}}}]},
{"data":{"values":[{"x":-111,"y":368,"t":"III"}]},"mark":{"type":"text","font":"Liberation Serif","fontSize":20,"fontWeight":"bold","color":"#111"},"encoding":{"text":{"field":"t"}}}]}]},
{"width":13.5,"height":1,"data":{"values":[{}]},"mark":{"type":"rule","opacity":0},"encoding":{}},
{"vconcat":[{"width":1,"height":16,"data":{"values":[{}]},"mark":{"type":"rule","opacity":0},"encoding":{}},
{"width":150,"height":121,"view":{"fill":"#3b2a9e","stroke":"#c8c8c8"},"data":{"name":"g"},"encoding":{"x":{"field":"x","type":"quantitative","title":null,"scale":{"domain":[0,197],"nice":false,"zero":false},"axis":{"values":[20,60,100,140,180],"labelPadding":2.5}},"y":{"field":"y","type":"quantitative","title":null,"scale":{"domain":[188,0],"nice":false,"zero":false},"axis":{"values":[20,60,100,140,180],"labelPadding":2}}},
"layer":[{"transform":[{"window":[{"op":"lag","field":"x","as":"x0"},{"op":"lag","field":"y","as":"y0"}],"groupby":["b"]},{"filter":"datum.x0!=null"}],"mark":{"type":"rule","strokeWidth":3,"strokeCap":"round","clip":true,"color":"#f8f014"},"encoding":{"x2":{"field":"x0"},"y2":{"field":"y0"}}},
{"data":{"values":[{"x":14.4,"y":165,"t":"g"}]},"layer":[{"mark":{"type":"point","shape":"square","size":440,"filled":true,"fill":"white","stroke":"black","strokeWidth":2,"opacity":1}},{"mark":{"type":"text","font":"Liberation Serif","fontSize":22,"color":"#111"},"encoding":{"text":{"field":"t"}}}]}]}]},
{"width":5,"height":1,"data":{"values":[{}]},"mark":{"type":"rule","opacity":0},"encoding":{}},
{"vconcat":[{"width":1,"height":16,"data":{"values":[{}]},"mark":{"type":"rule","opacity":0},"encoding":{}},
{"width":154,"height":122,"view":{"fill":"#3b2a9e","stroke":"#c8c8c8"},"data":{"name":"j"},"encoding":{"x":{"field":"x","type":"quantitative","title":null,"scale":{"domain":[-4,201],"nice":false,"zero":false},"axis":{"values":[20,60,100,140,180],"labelPadding":1.5}},"y":{"field":"y","type":"quantitative","title":null,"scale":{"domain":[203,1],"nice":false,"zero":false},"axis":{"values":[20,60,100,140,180],"labelPadding":2}}},
"layer":[{"transform":[{"window":[{"op":"lag","field":"x","as":"x0"},{"op":"lag","field":"y","as":"y0"}],"groupby":["b"]},{"filter":"datum.x0!=null"}],"mark":{"type":"rule","strokeWidth":5,"strokeCap":"round","clip":true,"color":"#f8f014"},"encoding":{"x2":{"field":"x0"},"y2":{"field":"y0"}}},
{"data":{"values":[{"x":12,"y":180,"t":"j"}]},"layer":[{"mark":{"type":"point","shape":"square","size":400,"filled":true,"fill":"white","stroke":"black","strokeWidth":2,"opacity":1}},{"mark":{"type":"text","font":"Liberation Serif","fontSize":22,"color":"#111"},"encoding":{"text":{"field":"t"}}}]},
{"data":{"values":[{"x":-59,"y":18,"t":"IV"}]},"mark":{"type":"text","font":"Liberation Serif","fontSize":20,"fontWeight":"bold","color":"#111"},"encoding":{"text":{"field":"t"}}}]}]},
{"width":0.5,"height":1,"data":{"values":[{}]},"mark":{"type":"rule","opacity":0},"encoding":{}},
{"vconcat":[{"width":1,"height":15,"data":{"values":[{}]},"mark":{"type":"rule","opacity":0},"encoding":{}},
{"width":152,"height":122,"view":{"fill":"#3b2a9e","stroke":"#c8c8c8"},"data":{"name":"k"},"encoding":{"x":{"field":"x","type":"quantitative","title":null,"scale":{"domain":[-4,197],"nice":false,"zero":false},"axis":{"values":[20,60,100,140,180],"labelPadding":2.5}},"y":{"field":"y","type":"quantitative","title":null,"scale":{"domain":[199,0],"nice":false,"zero":false},"axis":{"values":[20,60,100,140,180],"labelPadding":0.5}}},
"layer":[{"transform":[{"window":[{"op":"lag","field":"x","as":"x0"},{"op":"lag","field":"y","as":"y0"}],"groupby":["b"]},{"filter":"datum.x0!=null"}],"mark":{"type":"rule","strokeWidth":3.5,"strokeCap":"round","clip":true,"color":"#f8f014"},"encoding":{"x2":{"field":"x0"},"y2":{"field":"y0"}}},
{"data":{"values":[{"x":13,"y":178,"t":"k"}]},"layer":[{"mark":{"type":"point","shape":"square","size":380,"filled":true,"fill":"white","stroke":"black","strokeWidth":2,"opacity":1}},{"mark":{"type":"text","font":"Liberation Serif","fontSize":22,"color":"#111"},"encoding":{"text":{"field":"t"}}}]}]}]},
{"width":6,"height":1,"data":{"values":[{}]},"mark":{"type":"rule","opacity":0},"encoding":{}},
{"vconcat":[{"width":1,"height":18,"data":{"values":[{}]},"mark":{"type":"rule","opacity":0},"encoding":{}},
{"width":157,"height":120,"view":{"fill":"#3b2a9e","stroke":"#c8c8c8"},"data":{"name":"l"},"encoding":{"x":{"field":"x","type":"quantitative","title":null,"scale":{"domain":[1,199],"nice":false,"zero":false},"axis":{"values":[20,60,100,140,180],"labelPadding":1.5}},"y":{"field":"y","type":"quantitative","title":null,"scale":{"domain":[195,-3],"nice":false,"zero":false},"axis":{"values":[20,60,100,140,180],"labelPadding":2}}},
"layer":[{"transform":[{"window":[{"op":"lag","field":"x","as":"x0"},{"op":"lag","field":"y","as":"y0"}],"groupby":["b"]},{"filter":"datum.x0!=null"}],"mark":{"type":"rule","strokeWidth":2.2,"strokeCap":"round","clip":true,"color":"#f8f014"},"encoding":{"x2":{"field":"x0"},"y2":{"field":"y0"}}},
{"data":{"values":[{"x":19,"y":173,"t":"l"}]},"layer":[{"mark":{"type":"point","shape":"square","size":380,"filled":true,"fill":"white","stroke":"black","strokeWidth":2,"opacity":1}},{"mark":{"type":"text","font":"Liberation Serif","fontSize":22,"color":"#111"},"encoding":{"text":{"field":"t"}}}]}]}]},
{"width":5.5,"height":1,"data":{"values":[{}]},"mark":{"type":"rule","opacity":0},"encoding":{}},
{"vconcat":[{"width":1,"height":16,"data":{"values":[{}]},"mark":{"type":"rule","opacity":0},"encoding":{}},
{"width":148,"height":119,"view":{"fill":"#3b2a9e","stroke":"#c8c8c8"},"data":{"name":"m"},"encoding":{"x":{"field":"x","type":"quantitative","title":null,"scale":{"domain":[-5,190],"nice":false,"zero":false},"axis":{"values":[20,60,100,140,180],"labelPadding":3.5}},"y":{"field":"y","type":"quantitative","title":null,"scale":{"domain":[202,-3],"nice":false,"zero":false},"axis":{"values":[20,60,100,140,180],"labelPadding":2}}},
"layer":[{"transform":[{"window":[{"op":"lag","field":"x","as":"x0"},{"op":"lag","field":"y","as":"y0"}],"groupby":["b"]},{"filter":"datum.x0!=null"}],"mark":{"type":"rule","strokeWidth":6,"strokeCap":"square","clip":true,"color":"#f8f014"},"encoding":{"x2":{"field":"x0"},"y2":{"field":"y0"}}},
{"data":{"values":[{"x":12,"y":179,"t":"m"}]},"layer":[{"mark":{"type":"point","shape":"square","size":380,"filled":true,"fill":"white","stroke":"black","strokeWidth":2,"opacity":1}},{"mark":{"type":"text","font":"Liberation Serif","fontSize":22,"color":"#111"},"encoding":{"text":{"field":"t"}}}]}]}]}
]},
{"hconcat":[
{"width":59.5,"height":1,"data":{"values":[{}]},"mark":{"type":"rule","opacity":0},"encoding":{}},
{"vconcat":[{"width":1,"height":5,"data":{"values":[{}]},"mark":{"type":"rule","opacity":0},"encoding":{}},
{"width":161,"height":126,"view":{"fill":"#3b2a9e","stroke":"#c8c8c8"},"data":{"name":"h"},"encoding":{"x":{"field":"x","type":"quantitative","title":null,"scale":{"domain":[-2,207],"nice":false,"zero":false},"axis":{"values":[20,60,100,140,180],"labelPadding":2.5}},"y":{"field":"y","type":"quantitative","title":null,"scale":{"domain":[194,-3],"nice":false,"zero":false},"axis":{"values":[20,60,100,140,180],"labelPadding":2}}},
"layer":[{"transform":[{"window":[{"op":"lag","field":"x","as":"x0"},{"op":"lag","field":"y","as":"y0"}],"groupby":["b"]},{"filter":"datum.x0!=null"}],"mark":{"type":"rule","strokeWidth":3,"strokeCap":"round","clip":true,"color":"#f8f014"},"encoding":{"x2":{"field":"x0"},"y2":{"field":"y0"}}},
{"data":{"values":[{"x":12,"y":179,"t":"h"}]},"layer":[{"mark":{"type":"point","shape":"square","size":380,"filled":true,"fill":"white","stroke":"black","strokeWidth":2,"opacity":1}},{"mark":{"type":"text","font":"Liberation Serif","fontSize":22,"color":"#111"},"encoding":{"text":{"field":"t"}}}]}]}]},
{"width":5.5,"height":1,"data":{"values":[{}]},"mark":{"type":"rule","opacity":0},"encoding":{}},
{"vconcat":[{"width":1,"height":7,"data":{"values":[{}]},"mark":{"type":"rule","opacity":0},"encoding":{}},
{"width":155,"height":121,"view":{"fill":"#3b2a9e","stroke":"#c8c8c8"},"data":{"name":"i"},"encoding":{"x":{"field":"x","type":"quantitative","title":null,"scale":{"domain":[-4,203],"nice":false,"zero":false},"axis":{"values":[20,60,100,140,180],"labelPadding":5.5}},"y":{"field":"y","type":"quantitative","title":null,"scale":{"domain":[193,3],"nice":false,"zero":false},"axis":{"values":[20,60,100,140,180],"labelPadding":2}}},
"layer":[{"transform":[{"window":[{"op":"lag","field":"x","as":"x0"},{"op":"lag","field":"y","as":"y0"}],"groupby":["b"]},{"filter":"datum.x0!=null"}],"mark":{"type":"rule","strokeWidth":4,"strokeCap":"round","clip":true,"color":"#f8f014"},"encoding":{"x2":{"field":"x0"},"y2":{"field":"y0"}}},
{"data":{"values":[{"x":16,"y":176,"t":"i"}]},"layer":[{"mark":{"type":"point","shape":"square","size":380,"filled":true,"fill":"white","stroke":"black","strokeWidth":2,"opacity":1}},{"mark":{"type":"text","font":"Liberation Serif","fontSize":22,"color":"#111"},"encoding":{"text":{"field":"t"}}}]}]}]},
{"width":24.5,"height":1,"data":{"values":[{}]},"mark":{"type":"rule","opacity":0},"encoding":{}},
{"vconcat":[{"width":1,"height":7,"data":{"values":[{}]},"mark":{"type":"rule","opacity":0},"encoding":{}},
{"width":150,"height":114,"view":{"fill":"#3b2a9e","stroke":"#c8c8c8"},"data":{"name":"nA"},"encoding":{"x":{"field":"x","type":"quantitative","title":null,"scale":{"domain":[-3,199],"nice":false,"zero":false},"axis":{"values":[20,60,100,140,180],"labelPadding":6.5}},"y":{"field":"y","type":"quantitative","title":null,"scale":{"domain":[193,-3],"nice":false,"zero":false},"axis":{"values":[20,60,100,140,180],"labelPadding":2}}},
"layer":[{"mark":{"type":"area","orient":"horizontal","color":"#f8f014","clip":true},"encoding":{"x2":{"field":"x2"}}},
{"data":{"values":[{"x":16,"y":172,"t":"n"}]},"layer":[{"mark":{"type":"point","shape":"square","size":380,"filled":true,"fill":"white","stroke":"black","strokeWidth":2,"opacity":1}},{"mark":{"type":"text","font":"Liberation Serif","fontSize":22,"color":"#111","dy":2},"encoding":{"text":{"field":"t"}}}]}]}]},
{"width":5.5,"height":1,"data":{"values":[{}]},"mark":{"type":"rule","opacity":0},"encoding":{}},
{"vconcat":[{"width":1,"height":9,"data":{"values":[{}]},"mark":{"type":"rule","opacity":0},"encoding":{}},
{"width":148,"height":115,"view":{"fill":"#3b2a9e","stroke":"#c8c8c8"},"encoding":{"x":{"field":"x","type":"quantitative","title":null,"scale":{"domain":[-1,199],"nice":false,"zero":false},"axis":{"values":[20,60,100,140,180],"labelPadding":3.5}},"y":{"field":"y","type":"quantitative","title":null,"scale":{"domain":[195,-7],"nice":false,"zero":false},"axis":{"values":[20,60,100,140,180],"labelPadding":2}}},
"layer":[{"data":{"name":"oA"},"mark":{"type":"area","orient":"horizontal","color":"#f8f014","clip":true},"encoding":{"x2":{"field":"x2"}}},
{"data":{"name":"oB"},"transform":[{"window":[{"op":"lag","field":"x","as":"x0"},{"op":"lag","field":"y","as":"y0"}],"groupby":["b"]},{"filter":"datum.x0!=null"}],"mark":{"type":"rule","strokeWidth":4,"strokeCap":"round","clip":true,"color":"#f8f014"},"encoding":{"x2":{"field":"x0"},"y2":{"field":"y0"}}},
{"data":{"values":[{"x":15,"y":175,"t":"o"}]},"layer":[{"mark":{"type":"point","shape":"square","size":380,"filled":true,"fill":"white","stroke":"black","strokeWidth":2,"opacity":1}},{"mark":{"type":"text","font":"Liberation Serif","fontSize":22,"color":"#111","dy":3},"encoding":{"text":{"field":"t"}}}]}]}]},
{"width":10.5,"height":1,"data":{"values":[{}]},"mark":{"type":"rule","opacity":0},"encoding":{}},
{"vconcat":[{"width":1,"height":7,"data":{"values":[{}]},"mark":{"type":"rule","opacity":0},"encoding":{}},
{"width":165,"height":117,"view":{"fill":"#3b2a9e","stroke":"#c8c8c8"},"encoding":{"x":{"field":"x","type":"quantitative","title":null,"scale":{"domain":[-1,203],"nice":false,"zero":false},"axis":{"values":[20,60,100,140,180],"labelPadding":3.5}},"y":{"field":"y","type":"quantitative","title":null,"scale":{"domain":[196,-3],"nice":false,"zero":false},"axis":{"values":[20,60,100,140,180],"labelPadding":2}}},
"layer":[{"data":{"name":"pA"},"mark":{"type":"area","orient":"horizontal","color":"#f8f014","clip":true},"encoding":{"x2":{"field":"x2"}}},
{"data":{"name":"pB"},"transform":[{"window":[{"op":"lag","field":"x","as":"x0"},{"op":"lag","field":"y","as":"y0"}],"groupby":["b"]},{"filter":"datum.x0!=null"}],"mark":{"type":"rule","strokeWidth":4,"strokeCap":"round","clip":true,"color":"#f8f014"},"encoding":{"x2":{"field":"x0"},"y2":{"field":"y0"}}},
{"data":{"values":[{"x":15,"y":177,"t":"p"}]},"layer":[{"mark":{"type":"point","shape":"square","size":380,"filled":true,"fill":"white","stroke":"black","strokeWidth":2,"opacity":1}},{"mark":{"type":"text","font":"Liberation Serif","fontSize":22,"color":"#111"},"encoding":{"text":{"field":"t"}}}]}]}]},
{"width":0.5,"height":1,"data":{"values":[{}]},"mark":{"type":"rule","opacity":0},"encoding":{}},
{"vconcat":[{"width":1,"height":13,"data":{"values":[{}]},"mark":{"type":"rule","opacity":0},"encoding":{}},
{"width":147,"height":119,"view":{"fill":"#3b2a9e","stroke":"#c8c8c8"},"data":{"name":"qA"},"encoding":{"x":{"field":"x","type":"quantitative","title":null,"scale":{"domain":[-4,192],"nice":false,"zero":false},"axis":{"values":[20,60,100,140,180],"labelPadding":3.5}},"y":{"field":"y","type":"quantitative","title":null,"scale":{"domain":[191,-5],"nice":false,"zero":false},"axis":{"values":[20,60,100,140,180],"labelPadding":0}}},
"layer":[{"mark":{"type":"area","orient":"horizontal","color":"#f8f014","clip":true},"encoding":{"x2":{"field":"x2"}}},
{"data":{"values":[{"x":12,"y":168,"t":"q"}]},"layer":[{"mark":{"type":"point","shape":"square","size":380,"filled":true,"fill":"white","stroke":"black","strokeWidth":2,"opacity":1}},{"mark":{"type":"text","font":"Liberation Serif","fontSize":22,"color":"#111"},"encoding":{"text":{"field":"t"}}}]}]}]}
]}
]}
